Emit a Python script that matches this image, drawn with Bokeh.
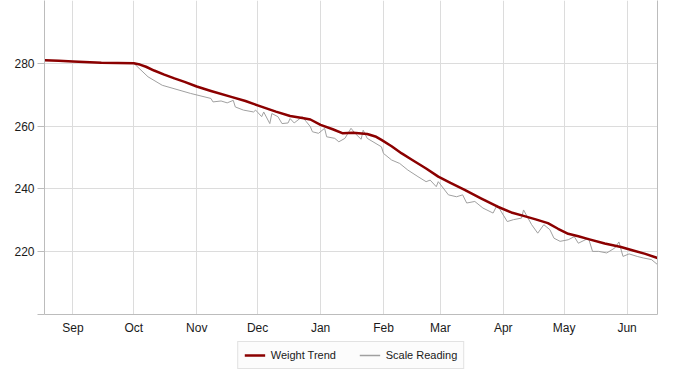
from bokeh.plotting import figure
from bokeh.layouts import column
from bokeh.models import Legend, LegendItem, FixedTicker, LinearAxis, Range1d
from bokeh.embed import file_html
from bokeh.resources import INLINE

# x values are days counted from Sep 1
month_ticks = [0, 30, 61, 91, 122, 153, 181, 212, 242, 273]
month_labels = ["Sep", "Oct", "Nov", "Dec", "Jan", "Feb", "Mar", "Apr", "May", "Jun"]
y_ticks = [200, 220, 240, 260, 280]

trend_days = [-14, -7, 0, 14, 30, 33, 36, 40, 45, 50, 55, 61, 68, 78, 85, 91, 100,
              107, 113, 117, 122, 128, 133, 138, 145, 149, 152, 157, 162, 167, 174,
              180, 186, 193, 201, 209, 216, 222, 228, 234, 239, 244, 249, 254, 262,
              270, 276, 282, 288]
trend_values = [281.0, 280.8, 280.6, 280.2, 280.0, 279.6, 278.9, 277.7, 276.4, 275.2,
                274.1, 272.6, 271.2, 269.3, 268.0, 266.6, 264.6, 263.2, 262.6, 262.1,
                260.4, 259.0, 257.7, 257.9, 257.5, 256.7, 255.6, 253.6, 251.3, 249.3,
                246.5, 243.9, 241.9, 239.7, 237.0, 234.4, 232.5, 231.4, 230.3, 229.1,
                227.3, 225.7, 224.9, 224.0, 222.6, 221.5, 220.4, 219.3, 218.0]

scale_days = [-14, 0, 14, 30, 37, 44, 58, 68, 69, 73, 76, 79, 80, 84, 89, 90, 93, 94,
              97, 98, 101, 103, 106, 107, 109, 113, 115, 117, 118, 121, 124, 125, 129,
              131, 134, 137, 139, 142, 143, 145, 152, 153, 157, 161, 165, 170, 174, 176,
              179, 180, 185, 189, 192, 194, 198, 202, 207, 209, 212, 214, 217, 221, 222,
              226, 229, 232, 235, 237, 240, 244, 247, 249, 254, 256, 259, 263, 267, 269,
              271, 274, 278, 281, 285, 288]
scale_values = [281.0, 280.6, 280.2, 280.0, 275.7, 273.0, 270.4, 268.8, 267.7, 268.0,
                267.4, 268.2, 266.1, 265.1, 264.5, 265.1, 263.0, 264.5, 260.8, 264.0,
                263.0, 260.8, 261.0, 262.4, 261.0, 263.0, 261.4, 259.8, 258.2, 257.7,
                259.3, 256.6, 256.1, 255.0, 256.1, 259.3, 257.7, 255.8, 258.7, 256.1,
                253.4, 251.3, 249.2, 248.1, 246.0, 243.9, 242.3, 242.8, 240.7, 242.3,
                238.1, 237.5, 238.1, 235.5, 236.0, 233.9, 232.3, 234.9, 231.7, 229.6,
                230.2, 230.7, 233.3, 228.6, 225.9, 228.6, 227.0, 224.3, 223.3, 223.8,
                224.8, 222.7, 224.3, 220.1, 220.1, 219.6, 221.2, 223.1, 218.5, 219.3,
                218.5, 218.0, 217.5, 215.9]

FONT = "Liberation Sans"
AXIS_COLOR = "#bcbcbc"
GRID_COLOR = "#dcdcdc"
TREND_COLOR = "#8b0000"
SCALE_COLOR = "#a0a0a0"

p = figure(width=692, height=337,
           x_range=Range1d(-14, 288), y_range=Range1d(200, 300),
           output_backend="svg", toolbar_location=None,
           min_border_left=44, min_border_top=0, min_border_right=35, min_border_bottom=22,
           background_fill_color="white", border_fill_color="white")
p.outline_line_color = None

p.line(scale_days, scale_values, line_color=SCALE_COLOR, line_width=1)
p.line(trend_days, trend_values, line_color=TREND_COLOR, line_width=2.5, line_join="round")

# x axis
p.xaxis.ticker = FixedTicker(ticks=month_ticks)
p.xaxis.major_label_overrides = {t: l for t, l in zip(month_ticks, month_labels)}
p.xaxis.major_tick_out = 0
p.xaxis.major_tick_in = 0
p.xaxis.minor_tick_out = 0
p.xaxis.minor_tick_in = 0
p.xaxis.axis_line_color = AXIS_COLOR
p.xaxis.major_label_text_font = FONT
p.xaxis.major_label_text_font_size = "12px"
p.xaxis.major_label_text_color = "#1a1a1a"
p.xaxis.major_label_standoff = 6

# y axis
p.yaxis.ticker = FixedTicker(ticks=y_ticks)
p.yaxis.major_label_overrides = {200: ""}
p.yaxis.major_tick_out = 7
p.yaxis.major_tick_in = 0
p.yaxis.minor_tick_out = 0
p.yaxis.minor_tick_in = 0
p.yaxis.axis_line_color = AXIS_COLOR
p.yaxis.major_tick_line_color = AXIS_COLOR
p.yaxis.major_label_text_font = FONT
p.yaxis.major_label_text_font_size = "12px"
p.yaxis.major_label_text_color = "#1a1a1a"
p.yaxis.major_label_standoff = 3

p.xgrid.grid_line_color = GRID_COLOR
p.ygrid.grid_line_color = GRID_COLOR

right_axis = LinearAxis(ticker=FixedTicker(ticks=[]), major_tick_out=0, major_tick_in=0,
                        minor_tick_out=0, minor_tick_in=0, major_label_text_font_size="0px",
                        axis_line_color=AXIS_COLOR)
p.add_layout(right_axis, "right")

# legend strip below the chart (single-point lines: nothing drawn, only legend keys)
lg = figure(width=692, height=35, x_range=Range1d(-14, 288), y_range=Range1d(200, 300),
            output_backend="svg", toolbar_location=None,
            x_axis_type=None, y_axis_type=None,
            min_border_left=44, min_border_right=35, min_border_top=0, min_border_bottom=0,
            background_fill_color="white", border_fill_color="white")
lg.outline_line_color = None
lg.grid.visible = False
trend_key = lg.line(trend_days[:1], trend_values[:1], line_color=TREND_COLOR, line_width=2.5)
scale_key = lg.line(scale_days[:1], scale_values[:1], line_color=SCALE_COLOR, line_width=1.5)

legend = Legend(items=[LegendItem(label="Weight Trend", renderers=[trend_key]),
                       LegendItem(label="Scale Reading", renderers=[scale_key])],
                orientation="horizontal", location="center")
legend.label_text_font = FONT
legend.label_text_font_size = "11px"
legend.label_text_color = "#1a1a1a"
legend.border_line_color = "#c8c8c8"
legend.background_fill_color = "#fcfcfc"
legend.background_fill_alpha = 1.0
legend.padding = 6
legend.margin = 0
legend.spacing = 18
legend.glyph_width = 21
legend.glyph_height = 14
legend.label_height = 14
legend.label_width = 70
legend.label_standoff = 6
lg.add_layout(legend, "center")

layout = column(p, lg, spacing=0)
open("out.html", "w").write(file_html(layout, INLINE))
